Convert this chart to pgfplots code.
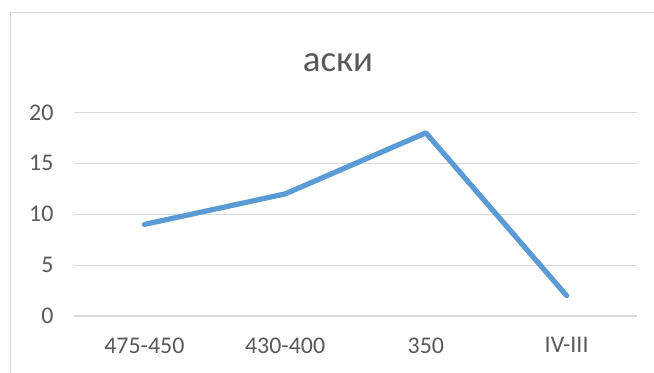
\documentclass[border=0pt]{standalone}
\usepackage{fontspec}
\setmainfont{Carlito}
\usepackage{pgfplots}
\pgfplotsset{compat=1.18}
\definecolor{gridc}{HTML}{D9D9D9}
\definecolor{textc}{HTML}{595959}
\definecolor{linec}{HTML}{5B9BD5}
\begin{document}
\begin{tikzpicture}[x=1bp,y=1bp]
\path[use as bounding box] (0,0) rectangle (654,372);
\clip (0,0) rectangle (654,372);
\fill[white] (0,0) rectangle (654,372);
\draw[gridc, line width=1bp] (10,-20) -- (10,359) -- (700,359);
\node[anchor=base, text=textc, font=\fontsize{37}{40}\selectfont, inner sep=0] at (338,301) {аски};
\begin{axis}[
  at={(74bp,56bp)}, anchor=south west,
  scale only axis, width=563bp, height=203.5bp,
  xmin=-0.5, xmax=3.5, ymin=0, ymax=20,
  xtick={0,1,2,3}, xticklabels={475-450,430-400,350,IV-III},
  ytick={0,5,10,15,20},
  ymajorgrids, grid style={gridc, line width=1.2bp},
  axis line style={draw=none},
  major tick length=0,
  tick label style={text=textc, font=\fontsize{24}{26}\selectfont},
  /pgf/number format/assume math mode=true,
  yticklabel style={xshift=-17bp},
  xticklabel style={yshift=-18bp},
  clip=false,
]
\addplot[linec, line width=5.2bp, line cap=round, line join=round, mark=none] coordinates {(0,9) (1,12) (2,18) (3,2)};
\end{axis}
\end{tikzpicture}
\end{document}
